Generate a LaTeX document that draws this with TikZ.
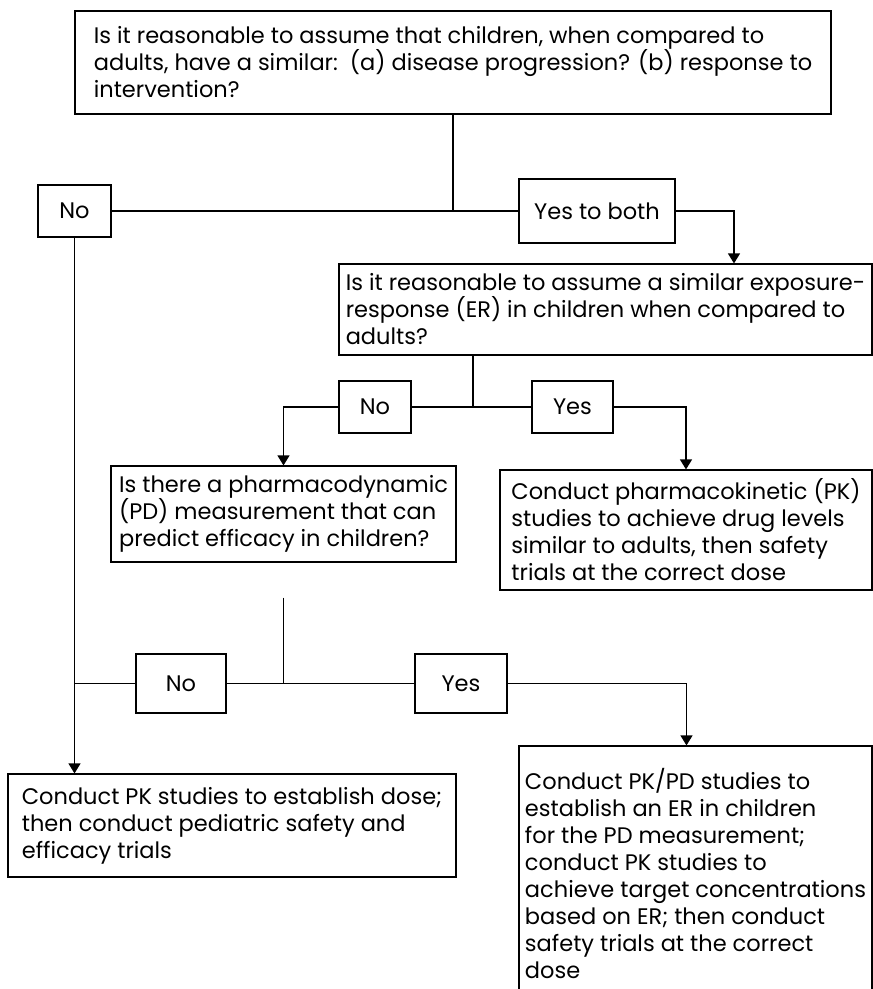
\documentclass[tikz,border=0pt]{standalone}
\usepackage{fontspec}
\setmainfont{Poppins}
\usetikzlibrary{positioning,arrows.meta,calc}

\begin{document}
\begin{tikzpicture}[
        x=1pt, y=-1pt,
        font=\fontsize{22.5}{27}\selectfont,
        box/.style={draw, line width=1.2pt, align=left, inner sep=0pt},
        tag/.style={draw, line width=1.2pt, align=center, inner sep=0pt, minimum height=52pt},
        line/.style={line width=1.2pt},
        arrow/.style={line width=1.2pt, -{Triangle[width=12pt,length=10pt]}}
    ]
    \useasboundingbox (0,0) rectangle (873,989);
    \clip (0,0) rectangle (873,989);

    \node[box, minimum width=756pt, minimum height=103pt] (q1) at (453,62.5) {Is it reasonable to assume that children, when compared to\\adults, have a similar:\ \ (a) disease progression? (b) response to\\intervention?};
    \node[tag, minimum width=73pt] (no1) at (74.5,211) {No};
    \node[tag, minimum width=156pt, minimum height=64pt] (yes1) at (597,211) {Yes to both};
    \node[box, minimum width=533pt, minimum height=91pt] (q2) at (605.5,309.5) {Is it reasonable to assume a similar exposure-\\response (ER) in children when compared to\\adults?};
    \node[tag, minimum width=72pt] (no2) at (375,407) {No};
    \node[tag, minimum width=81pt] (yes2) at (572.5,407) {Yes};
    \node[box, minimum width=345pt, minimum height=96pt] (q3) at (283.5,514) {Is there a pharmacodynamic\\(PD) measurement that can\\predict efficacy in children?};
    \node[box, minimum width=372pt, minimum height=120pt] (pk) at (686,530) {Conduct pharmacokinetic (PK)\\studies to achieve drug levels\\similar to adults, then safety\\trials at the correct dose};
    \node[tag, minimum width=90pt, minimum height=59pt] (no3) at (181,683.5) {No};
    \node[tag, minimum width=92pt, minimum height=59pt] (yes3) at (461,683.5) {Yes};
    \node[box, minimum width=448pt, minimum height=103pt] (pkdose) at (232,825.5) {Conduct PK studies to establish dose;\\then conduct pediatric safety and\\efficacy trials};
    \node[box, minimum width=353pt, minimum height=254pt] (pkpd) at (695.5,873) {Conduct PK/PD studies to\\establish an ER in children\\for the PD measurement;\\conduct PK studies to\\achieve target concentrations\\based on ER; then conduct\\safety trials at the correct\\dose};
    \coordinate (pdstem) at ([yshift=-35pt]q3.south);

    \draw[line] (q1.south) -- (q1.south |- no1.east);
    \draw[line] (no1.east) -- (yes1.west);
    \draw[arrow] (yes1.east) -| ([xshift=128.5pt]q2.north);
    \draw[line] ([xshift=-132.5pt]q2.south) |- (no2.east);
    \draw[line] (no2.east) -- (yes2.west);
    \draw[arrow] (no2.west) -| (q3.north);
    \draw[arrow] (yes2.east) -| (pk.north);
    \draw[line] (pdstem) |- (no3.east);
    \draw[line] (no3.east) -- (yes3.west);
    \draw[line] (no3.west) -- (no3.west -| no1.south);
    \draw[arrow] (no1.south) -- (pkdose.north -| no1.south);
    \draw[arrow] (yes3.east) -| ([xshift=-9pt]pkpd.north);
\end{tikzpicture}
\end{document}
